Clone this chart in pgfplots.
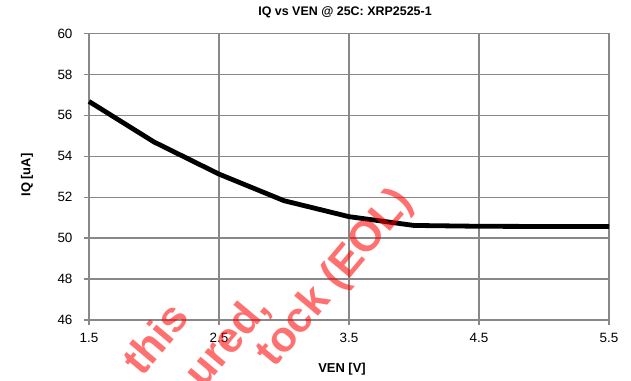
\documentclass[border=0pt]{standalone}
\usepackage{pgfplots}
\pgfplotsset{compat=1.18}
\usepackage{fontspec}
\setmainfont{Liberation Sans}
\definecolor{gridgray}{RGB}{136,136,136}
\begin{document}
\begin{tikzpicture}
\useasboundingbox (-89bp,-61bp) rectangle (542bp,320bp);
\begin{axis}[
  at={(0,0)}, anchor=south west,
  scale only axis,
  width=520bp, height=286.5bp,
  xmin=1.5, xmax=5.5, ymin=46, ymax=60,
  xtick={1.5,2.5,3.5,4.5,5.5},
  xticklabels={1.5,2.5,3.5,4.5,5.5},
  ytick={46,48,...,60},
  grid=major,
  grid style={gridgray, line width=1.3bp},
  axis line style={gridgray, line width=1.3bp},
  tick style={gridgray, line width=1.3bp},
  major tick length=5bp,
  tick align=outside,
  tick pos=left,
  tick label style={font=\fontsize{13.5}{14}\selectfont, text=black},
  /pgf/number format/assume math mode=true,
  yticklabel style={xshift=-8bp},
  xticklabel style={yshift=-5bp},
  clip=false,
]
\addplot[black, line width=4.8bp, line join=round] coordinates {
  (1.5,56.68) (2.0,54.70) (2.5,53.13) (3.0,51.83) (3.5,51.05)
  (4.0,50.62) (4.5,50.58) (5.0,50.57) (5.5,50.57)
};
\end{axis}
\node[font=\fontsize{12.5}{13}\selectfont\bfseries] at (256bp,308bp) {IQ vs VEN @ 25C: XRP2525-1};
\node[font=\fontsize{13}{14}\selectfont\bfseries] at (253bp,-49bp) {VEN [V]};
\node[font=\fontsize{13}{14}\selectfont\bfseries, rotate=90] at (-62bp,145bp) {IQ [uA]};
\begin{scope}[overlay]
\node[font=\fontsize{43}{43}\selectfont\bfseries, text=red, text opacity=0.56, rotate=50] at (66bp,-18bp) {this};
\node[font=\fontsize{43}{43}\selectfont\bfseries, text=red, text opacity=0.56, rotate=50] at (139bp,-22bp) {ured,};
\node[font=\fontsize{43}{43}\selectfont\bfseries, text=red, text opacity=0.56, rotate=50] at (247bp,42bp) {tock (EOL)};
\end{scope}
\end{tikzpicture}
\end{document}
